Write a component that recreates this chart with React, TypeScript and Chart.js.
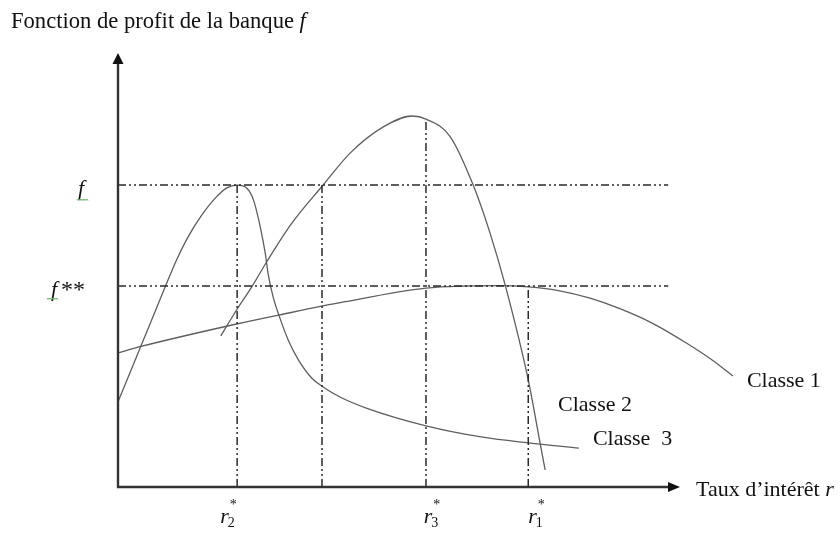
import React, { useEffect, useRef } from "react";
import { Chart, registerables } from "chart.js";

Chart.register(...registerables);

const SERIF = '"Liberation Serif", "Times New Roman", serif';

// ---- Data (abstract units) ----
// Classe 1 : slow rise, flat maximum at r1*, then decline
const classe1X = [0, 0.39, 2.11, 2.88, 4.04, 5.48, 6.21, 6.8, 7.3, 7.86, 8.4, 8.93, 9.52, 10.12, 10.59, 10.94];
const classe1Y = [3.07, 3.21, 3.73, 3.94, 4.24, 4.55, 4.6, 4.61, 4.58, 4.49, 4.32, 4.08, 3.74, 3.29, 2.89, 2.54];

// Classe 2 : high bell, maximum at r3*
const classe2X = [1.83, 2.11, 2.38, 2.65, 3.09, 3.65, 4.13, 4.72, 5.23, 5.48, 5.91, 6.32, 6.62, 6.89, 7.3, 7.51, 7.6];
const classe2Y = [3.46, 4.05, 4.58, 5.16, 6.03, 6.91, 7.64, 8.24, 8.49, 8.42, 8.02, 6.91, 5.81, 4.62, 2.45, 1.01, 0.39];

// Classe 3 : sharp peak at r2*, then long tail
const classe3X = [0, 0.41, 0.84, 1.04, 1.25, 1.49, 1.73, 1.93, 2.12, 2.29, 2.41, 2.53, 2.62, 2.67, 2.76, 2.88, 3.03, 3.21, 3.45, 3.65, 3.95, 4.43, 5.48, 6.49, 7.3, 8.2];
const classe3Y = [1.95, 3.23, 4.58, 5.19, 5.73, 6.22, 6.61, 6.84, 6.91, 6.84, 6.57, 5.96, 5.35, 4.89, 4.35, 3.87, 3.36, 2.91, 2.49, 2.29, 2.06, 1.8, 1.4, 1.14, 1.01, 0.89];

const seriesNames = ["Classe 1", "Classe 2", "Classe  3"];
const seriesLabelX = [11.19, 7.83, 8.45];
const seriesLabelY = [2.43, 1.88, 1.1];

// Horizontal profit levels f* and f**
const levelValues = [6.91, 4.6];
const levelEndX = 9.79;

// Vertical reference lines (interest rates) and their tops
const rateValues = [2.12, 3.63, 5.48, 7.3];
const rateTops = [6.91, 6.91, 8.42, 4.6];

// Tick labels r_i^*
const tickSubs = ["2", "3", "1"];
const tickX = [1.82, 5.44, 7.3];

// Axis extents
const xAxisEnd = 10.0;
const yAxisEnd = 9.93;

const zip = (xs: number[], ys: number[]) => xs.map((x, i) => ({ x, y: ys[i] }));

export default function App() {
  const ref = useRef<HTMLCanvasElement | null>(null);

  useEffect(() => {
    if (!ref.current) return;
    const DASH = [8, 3, 2, 3, 2, 3];
    const curveStyle = {
      borderColor: "#5e5e5e",
      borderWidth: 1.3,
      pointRadius: 0,
      fill: false,
      cubicInterpolationMode: "monotone" as const,
      clip: false as const,
    };
    const refStyle = {
      borderColor: "#2a2a2a",
      borderWidth: 1.5,
      borderDash: DASH,
      pointRadius: 0,
      fill: false,
      tension: 0,
      clip: false as const,
    };

    const datasets: any[] = [];
    levelValues.forEach((v) => {
      datasets.push({ ...refStyle, data: [{ x: 0, y: v }, { x: levelEndX, y: v }] });
    });
    rateValues.forEach((r, i) => {
      datasets.push({ ...refStyle, data: [{ x: r, y: 0 }, { x: r, y: rateTops[i] }] });
    });
    datasets.push({ ...curveStyle, label: seriesNames[0], data: zip(classe1X, classe1Y) });
    datasets.push({ ...curveStyle, label: seriesNames[1], data: zip(classe2X, classe2Y) });
    datasets.push({ ...curveStyle, label: seriesNames[2], data: zip(classe3X, classe3Y) });

    const decor = {
      id: "decor",
      afterDatasetsDraw(chart: any) {
        const ctx: CanvasRenderingContext2D = chart.ctx;
        const xs = chart.scales.x;
        const ys = chart.scales.y;
        const x0 = xs.getPixelForValue(0);
        const y0 = ys.getPixelForValue(0);
        const xEnd = xs.getPixelForValue(xAxisEnd);
        const yEnd = ys.getPixelForValue(yAxisEnd);
        ctx.save();
        // axes
        ctx.strokeStyle = "#333";
        ctx.fillStyle = "#111";
        ctx.lineWidth = 2.4;
        ctx.setLineDash([]);
        ctx.beginPath();
        ctx.moveTo(x0, y0);
        ctx.lineTo(x0, yEnd + 8);
        ctx.moveTo(x0 - 1.2, y0);
        ctx.lineTo(xEnd - 10, y0);
        ctx.stroke();
        ctx.beginPath();
        ctx.moveTo(x0, yEnd);
        ctx.lineTo(x0 - 5.5, yEnd + 11);
        ctx.lineTo(x0 + 5.5, yEnd + 11);
        ctx.closePath();
        ctx.fill();
        ctx.beginPath();
        ctx.moveTo(xEnd, y0);
        ctx.lineTo(xEnd - 12, y0 - 5);
        ctx.lineTo(xEnd - 12, y0 + 5);
        ctx.closePath();
        ctx.fill();

        ctx.fillStyle = "#111";
        ctx.textBaseline = "alphabetic";
        ctx.textAlign = "left";
        const normal = `22px ${SERIF}`;
        const italic = `italic 22px ${SERIF}`;

        // title
        ctx.font = `22.6px ${SERIF}`;
        const t = "Fonction de profit de la banque ";
        ctx.fillText(t, 11, 28);
        const tw = ctx.measureText(t).width;
        ctx.font = `italic 22.6px ${SERIF}`;
        ctx.fillText("f", 11 + tw, 28);

        // level labels
        const squiggle = (sx: number, sy: number, w: number) => {
          ctx.save();
          ctx.strokeStyle = "#6fb86f";
          ctx.lineWidth = 1;
          ctx.beginPath();
          for (let k = 0; k <= w; k += 1) {
            const yy = sy + (k % 2 === 0 ? 0 : 1.5);
            if (k === 0) ctx.moveTo(sx + k, yy);
            else ctx.lineTo(sx + k, yy);
          }
          ctx.stroke();
          ctx.restore();
        };
        const l1 = ys.getPixelForValue(levelValues[0]);
        ctx.font = italic;
        ctx.fillText("f", x0 - 40, l1 + 10);
        squiggle(x0 - 41, l1 + 14, 11);
        const l2 = ys.getPixelForValue(levelValues[1]);
        ctx.fillText("f", x0 - 67, l2 + 10);
        const fw = ctx.measureText("f").width;
        ctx.font = `24px ${SERIF}`;
        ctx.fillText("**", x0 - 67 + fw + 4, l2 + 11);
        squiggle(x0 - 71, l2 + 12, 11);

        // series labels
        ctx.font = normal;
        ctx.textBaseline = "middle";
        seriesNames.forEach((n, i) => {
          ctx.fillText(n, xs.getPixelForValue(seriesLabelX[i]), ys.getPixelForValue(seriesLabelY[i]));
        });

        // x axis title
        ctx.textBaseline = "alphabetic";
        const ax = "Taux d\u2019intérêt ";
        ctx.fillText(ax, xEnd + 16, y0 + 9);
        const aw = ctx.measureText(ax).width;
        ctx.font = italic;
        ctx.fillText("r", xEnd + 16 + aw, y0 + 9);

        // tick labels r_i^*
        tickSubs.forEach((s, i) => {
          const px = xs.getPixelForValue(tickX[i]);
          const base = y0 + 36;
          ctx.font = italic;
          ctx.fillText("r", px, base);
          const rw = ctx.measureText("r").width;
          ctx.font = `14px ${SERIF}`;
          ctx.fillText(s, px + rw - 1, base + 4);
          ctx.fillText("*", px + rw + 1, base - 14);
        });
        ctx.restore();
      },
    };

    const chart = new Chart(ref.current, {
      type: "line",
      data: { datasets },
      options: {
        animation: false,
        responsive: false,
        devicePixelRatio: 1,
        layout: { padding: { left: 118, right: 47.6, top: 50, bottom: 47 } },
        scales: {
          x: { type: "linear", min: 0, max: 12, display: false },
          y: { type: "linear", min: 0, max: 10, display: false },
        },
        plugins: { legend: { display: false }, tooltip: { enabled: false } },
      },
      plugins: [decor],
    });
    return () => chart.destroy();
  }, []);

  return (
    <div style={{ position: "fixed", left: 0, top: 0, width: 840, height: 534, background: "#fff" }}>
      <canvas ref={ref} width={840} height={534} style={{ display: "block" }} />
    </div>
  );
}
